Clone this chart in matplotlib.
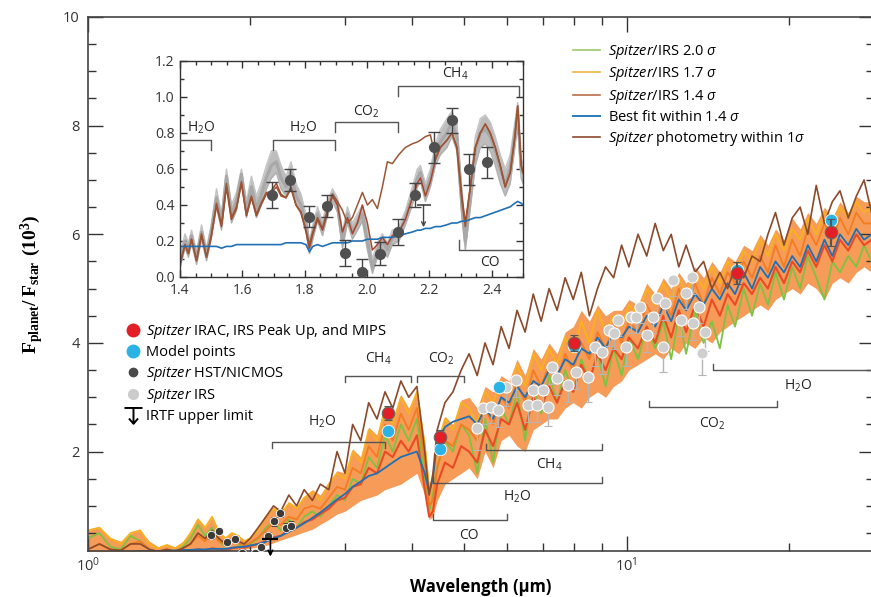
import matplotlib
matplotlib.use('Agg')
import matplotlib.pyplot as plt
from matplotlib.lines import Line2D
from matplotlib.path import Path
from matplotlib.ticker import MultipleLocator, FixedLocator, NullFormatter

plt.rcParams['font.family'] = ['Open Sans', 'DejaVu Sans']
plt.rcParams['mathtext.fontset'] = 'custom'
plt.rcParams['mathtext.rm'] = 'Open Sans'
plt.rcParams['mathtext.it'] = 'Open Sans:italic'
plt.rcParams['mathtext.bf'] = 'Liberation Serif:bold'

# ---- main spectrum (wavelength in micron, flux ratio in 1e-3) ----
wl = [1.00, 1.05, 1.10, 1.15, 1.20, 1.25, 1.30, 1.35, 1.40, 1.45,
      1.50, 1.55, 1.60, 1.65, 1.70, 1.75, 1.80, 1.85, 1.90, 1.95,
      2.00, 2.07, 2.14, 2.21, 2.28, 2.36, 2.44, 2.52, 2.61, 2.70,
      2.80, 2.90, 3.00, 3.10, 3.21, 3.32, 3.44, 3.56, 3.68, 3.81,
      3.94, 4.08, 4.22, 4.30, 4.37, 4.45, 4.60, 4.76, 4.93, 5.10,
      5.28, 5.46, 5.65, 5.85, 6.05, 6.26, 6.48, 6.71, 6.94, 7.18,
      7.43, 7.69, 7.96, 8.24, 8.53, 8.83, 9.14, 9.46, 9.79, 10.1,
      10.5, 10.9, 11.3, 11.7, 12.1, 12.5, 12.9, 13.4, 13.9, 14.4,
      14.9, 15.4, 15.9, 16.5, 17.1, 17.7, 18.3, 18.9, 19.6, 20.3,
      21.0, 21.7, 22.5, 23.3, 24.1, 24.9, 25.8, 26.7, 27.6, 28.5]

mass_hi = [0.55, 0.6, 0.42, 0.35, 0.5, 0.55, 0.35, 0.25, 0.3, 0.25,
           0.35, 0.5, 0.78, 0.6, 0.8, 0.55, 0.42, 0.5, 0.45, 0.38,
           0.42, 0.58, 0.82, 0.98, 0.88, 1.08, 0.98, 1.18, 1.3, 1.2,
           1.45, 1.65, 1.6, 2.05, 1.9, 2.45, 2.3, 2.85, 2.6, 3.05,
           2.8, 3.1, 2.2, 1.4, 1.6, 2.2, 2.65, 2.5, 2.95, 3.0,
           2.8, 3.2, 3.1, 3.4, 3.3, 3.7, 3.4, 3.9, 3.7, 4.0,
           3.8, 4.2, 4.3, 4.6, 4.4, 4.7, 4.5, 4.6, 4.6, 4.8,
           4.7, 5.1, 4.9, 5.2, 5.0, 5.3, 5.1, 5.4, 5.2, 5.5,
           5.3, 5.6, 5.5, 5.8, 5.7, 6.0, 5.8, 6.1, 5.9, 6.3,
           6.1, 6.4, 6.2, 6.5, 6.3, 6.6, 6.4, 6.7, 6.6, 6.6]
mass_lo = [0.1, 0.1, 0.1, 0.11, 0.11, 0.12, 0.12, 0.12, 0.12, 0.13,
           0.13, 0.14, 0.15, 0.15, 0.16, 0.17, 0.17, 0.18, 0.19, 0.2,
           0.22, 0.24, 0.27, 0.32, 0.37, 0.42, 0.47, 0.52, 0.57, 0.66,
           0.75, 0.85, 0.9, 1.0, 1.1, 1.15, 1.2, 1.3, 1.35, 1.4,
           1.5, 1.6, 1.2, 0.75, 0.8, 1.1, 1.4, 1.5, 1.6, 1.7,
           1.5, 2.0, 1.7, 2.2, 2.3, 2.1, 2.0, 2.4, 2.5, 2.6,
           2.6, 2.8, 2.9, 2.8, 3.0, 3.1, 3.0, 3.2, 3.3, 3.5,
           3.6, 3.7, 3.8, 3.7, 3.9, 3.8, 4.0, 3.9, 4.1, 4.0,
           4.2, 4.3, 4.4, 4.5, 4.6, 4.7, 4.6, 4.8, 4.9, 5.0,
           4.9, 5.1, 5.0, 4.8, 5.1, 5.2, 5.1, 5.3, 5.4, 5.3]

irs_20 = [0.4, 0.5, 0.25, 0.2, 0.45, 0.35, 0.2, 0.15, 0.18, 0.15,
          0.25, 0.4, 0.65, 0.45, 0.6, 0.35, 0.25, 0.35, 0.3, 0.22,
          0.3, 0.4, 0.6, 0.7, 0.55, 0.75, 0.6, 0.8, 0.9, 0.8,
          1.0, 1.2, 1.1, 1.5, 1.4, 1.9, 1.7, 2.3, 2.0, 2.5,
          2.2, 2.6, 1.5, 0.9, 1.2, 1.7, 2.2, 2.0, 2.5, 2.3,
          1.6, 2.6, 1.8, 2.8, 2.5, 3.1, 2.2, 3.2, 2.7, 3.4,
          2.9, 3.5, 3.1, 3.7, 3.3, 3.8, 3.2, 3.9, 3.4, 4.1,
          3.7, 4.3, 3.9, 4.4, 3.7, 4.5, 3.8, 4.6, 4.0, 4.4,
          3.9, 4.7, 4.3, 5.0, 4.5, 5.1, 4.7, 5.3, 4.8, 5.4,
          5.0, 5.6, 5.2, 4.8, 5.5, 5.3, 5.6, 5.4, 5.8, 5.5]
irs_17 = [0.55, 0.6, 0.4, 0.3, 0.5, 0.55, 0.3, 0.22, 0.28, 0.22,
          0.3, 0.5, 0.75, 0.6, 0.8, 0.5, 0.4, 0.5, 0.45, 0.35,
          0.4, 0.55, 0.8, 0.95, 0.85, 1.05, 0.95, 1.15, 1.25, 1.1,
          1.4, 1.6, 1.5, 2.0, 1.8, 2.4, 2.2, 2.8, 2.5, 3.0,
          2.7, 3.1, 2.1, 1.3, 1.5, 2.1, 2.6, 2.4, 2.9, 2.8,
          2.5, 3.1, 2.9, 3.3, 3.1, 3.6, 3.2, 3.8, 3.5, 3.9,
          3.6, 4.1, 3.8, 4.4, 4.0, 4.6, 4.2, 4.5, 4.3, 4.7,
          4.5, 5.0, 4.7, 5.1, 4.8, 5.2, 4.9, 5.3, 5.0, 5.4,
          5.1, 5.5, 5.3, 5.7, 5.5, 5.9, 5.6, 6.0, 5.7, 6.1,
          5.9, 6.3, 6.0, 6.4, 6.1, 6.5, 6.3, 6.6, 6.4, 6.5]
irs_14a = [0.2, 0.3, 0.2, 0.18, 0.3, 0.35, 0.2, 0.16, 0.2, 0.17,
           0.22, 0.3, 0.45, 0.35, 0.5, 0.35, 0.28, 0.35, 0.32, 0.27,
           0.32, 0.42, 0.55, 0.7, 0.65, 0.8, 0.75, 0.95, 1.0, 0.95,
           1.15, 1.35, 1.3, 1.7, 1.6, 2.1, 1.9, 2.5, 2.2, 2.7,
           2.4, 2.8, 1.8, 1.0, 1.1, 1.7, 2.2, 2.1, 2.5, 2.4,
           2.2, 2.8, 2.5, 3.0, 2.8, 3.3, 2.9, 3.5, 3.2, 3.6,
           3.3, 3.8, 3.5, 4.0, 3.7, 4.2, 3.9, 4.3, 4.0, 4.4,
           4.2, 4.7, 4.4, 4.8, 4.5, 5.0, 4.6, 5.1, 4.7, 5.2,
           4.9, 5.3, 5.1, 5.5, 5.2, 5.6, 5.3, 5.8, 5.4, 5.9,
           5.6, 6.1, 5.8, 6.2, 5.9, 6.3, 6.0, 6.4, 6.2, 6.2]
irs_14b = [0.12, 0.13, 0.12, 0.14, 0.15, 0.14, 0.13, 0.14, 0.15, 0.15,
           0.16, 0.17, 0.2, 0.18, 0.22, 0.2, 0.18, 0.22, 0.24, 0.23,
           0.26, 0.3, 0.35, 0.42, 0.45, 0.55, 0.6, 0.7, 0.75, 0.85,
           0.95, 1.1, 1.15, 1.35, 1.4, 1.7, 1.6, 2.0, 1.9, 2.2,
           2.0, 2.3, 1.3, 0.8, 0.9, 1.4, 1.8, 1.7, 2.1, 2.0,
           1.8, 2.4, 2.1, 2.6, 2.5, 2.9, 2.4, 3.0, 2.8, 3.2,
           2.9, 3.3, 3.1, 3.6, 3.3, 3.8, 3.5, 3.9, 3.7, 4.1,
           3.9, 4.3, 4.0, 4.5, 4.1, 4.6, 4.2, 4.7, 4.3, 4.8,
           4.5, 4.9, 4.7, 5.1, 4.9, 5.2, 5.0, 5.4, 5.1, 5.5,
           5.3, 5.7, 5.4, 5.8, 5.5, 5.9, 5.7, 6.0, 5.8, 5.9]
best_fit = [0.15, 0.15, 0.15, 0.16, 0.16, 0.17, 0.17, 0.17, 0.18, 0.18,
            0.19, 0.19, 0.2, 0.2, 0.21, 0.21, 0.21, 0.23, 0.24, 0.25,
            0.27, 0.3, 0.34, 0.4, 0.45, 0.52, 0.6, 0.68, 0.78, 0.88,
            1.0, 1.12, 1.22, 1.35, 1.45, 1.55, 1.6, 1.7, 1.8, 1.9,
            1.95, 2.0, 1.6, 1.25, 1.5, 2.2, 2.45, 2.55, 2.6, 2.65,
            2.5, 2.8, 2.6, 3.0, 2.9, 3.2, 3.0, 3.3, 3.2, 3.5,
            3.4, 3.7, 3.6, 3.9, 3.8, 4.1, 3.9, 4.2, 4.1, 4.3,
            4.2, 4.5, 4.3, 4.7, 4.4, 4.8, 4.6, 4.9, 4.7, 5.0,
            4.8, 5.1, 4.9, 5.3, 5.0, 5.4, 5.2, 5.5, 5.3, 5.6,
            5.4, 5.8, 5.5, 5.9, 5.6, 6.0, 5.8, 6.1, 5.9, 6.0]
phot_1sig = [0.2, 0.3, 0.2, 0.18, 0.3, 0.3, 0.2, 0.16, 0.2, 0.16,
             0.22, 0.3, 0.5, 0.4, 0.55, 0.4, 0.3, 0.4, 0.35, 0.3,
             0.4, 0.6, 0.8, 1.0, 0.9, 1.2, 1.0, 1.3, 1.1, 1.4,
             1.3, 2.0, 1.6, 2.5, 2.2, 2.9, 2.6, 3.1, 2.8, 3.3,
             3.0, 3.2, 2.0, 1.2, 1.6, 2.4, 2.9, 3.1, 3.5, 3.8,
             3.4, 4.0, 3.6, 4.3, 3.9, 4.6, 4.2, 4.9, 4.4, 5.0,
             4.6, 5.2, 4.8, 5.3, 4.5, 5.0, 5.4, 5.2, 5.8, 5.4,
             6.0, 5.6, 6.2, 5.7, 6.0, 5.4, 5.8, 5.3, 5.5, 5.0,
             5.3, 5.0, 5.4, 5.2, 5.6, 5.5, 6.0, 6.4, 5.8, 6.3,
             6.5, 6.0, 6.9, 6.2, 6.6, 6.8, 6.3, 6.7, 7.0, 6.4]

# photometric points
phot_wl = [3.6, 4.5, 8.0, 16.0, 24.0]
phot_flux = [2.71, 2.27, 4.0, 5.29, 6.04]
phot_err = [0.12, 0.12, 0.15, 0.2, 0.25]
model_wl = [3.6, 4.5, 5.8, 8.0, 16.0, 24.0]
model_flux = [2.38, 2.04, 3.19, 3.95, 5.35, 6.26]

# IRS spectrum points
irs_wl = [5.28, 5.42, 5.59, 5.76, 5.96, 6.22, 6.55, 6.69, 6.83, 7.01,
          7.16, 7.28, 7.44, 7.77, 8.04, 8.49, 8.75, 9.02, 9.26, 9.46,
          9.66, 9.96, 10.2, 10.4, 10.6, 10.9, 11.2, 11.4, 11.7, 11.8,
          12.2, 12.6, 12.9, 13.2, 13.3, 13.6, 13.8, 14.0]
irs_flux = [2.43, 2.80, 2.82, 2.76, 3.19, 3.31, 2.85, 3.13, 2.85, 3.13,
            2.82, 3.55, 3.35, 3.22, 3.46, 3.37, 3.92, 3.83, 4.24, 4.18,
            4.42, 3.92, 4.48, 4.48, 4.66, 4.14, 4.48, 4.83, 3.92, 4.73,
            5.16, 4.42, 4.92, 5.21, 4.36, 4.66, 3.81, 4.20]
irs_err = [0.4, 0.3, 0.3, 0.3, 0.35, 0.3, 0.3, 0.3, 0.3, 0.3,
           0.35, 0.3, 0.3, 0.3, 0.3, 0.45, 0.35, 0.4, 0.3, 0.3,
           0.3, 0.35, 0.3, 0.3, 0.3, 0.3, 0.3, 0.3, 0.45, 0.3,
           0.3, 0.3, 0.3, 0.3, 0.3, 0.3, 0.4, 0.35]

# HST/NICMOS points and IRTF limit
nic_wl = [1.695, 1.753, 1.813, 1.871, 1.929, 1.984, 2.041, 2.099,
          2.155, 2.214, 2.271, 2.328, 2.385]
nic_flux = [0.456, 0.539, 0.336, 0.395, 0.133, 0.03, 0.13, 0.25,
            0.455, 0.72, 0.87, 0.598, 0.637]
nic_err = [0.07, 0.06, 0.06, 0.06, 0.07, 0.07, 0.065, 0.07,
           0.065, 0.085, 0.07, 0.085, 0.085]
irtf_wl = [2.181]
irtf_lim = [0.40]

# ---- inset spectra (1.4-2.5 micron) ----
in_wl = [1.400, 1.416, 1.427, 1.437, 1.453, 1.469, 1.485, 1.500, 1.517, 1.533,
         1.549, 1.565, 1.581, 1.597, 1.613, 1.629, 1.645, 1.660, 1.677, 1.693,
         1.709, 1.724, 1.740, 1.756, 1.772, 1.788, 1.804, 1.815, 1.826, 1.841,
         1.857, 1.873, 1.889, 1.905, 1.921, 1.937, 1.953, 1.969, 1.985, 2.001,
         2.017, 2.033, 2.049, 2.065, 2.081, 2.102, 2.123, 2.145, 2.161, 2.171,
         2.187, 2.203, 2.219, 2.235, 2.256, 2.272, 2.288, 2.304, 2.315, 2.331,
         2.347, 2.363, 2.379, 2.395, 2.411, 2.427, 2.443, 2.459, 2.474, 2.483,
         2.494, 2.500]
in_gray_mid = [0.08, 0.20, 0.15, 0.23, 0.10, 0.25, 0.12, 0.25, 0.44, 0.30,
               0.56, 0.35, 0.42, 0.57, 0.37, 0.50, 0.38, 0.45, 0.55, 0.62,
               0.64, 0.55, 0.50, 0.58, 0.45, 0.40, 0.30, 0.16, 0.25, 0.35,
               0.27, 0.38, 0.46, 0.40, 0.20, 0.35, 0.25, 0.30, 0.35, 0.20,
               0.05, 0.15, 0.20, 0.15, 0.22, 0.24, 0.33, 0.45, 0.55, 0.58,
               0.47, 0.55, 0.68, 0.75, 0.80, 0.86, 0.78, 0.40, 0.20, 0.45,
               0.70, 0.80, 0.82, 0.78, 0.70, 0.60, 0.52, 0.60, 0.80, 0.92,
               0.60, 0.58]
in_gray_hi = [0.12, 0.24, 0.19, 0.26, 0.14, 0.29, 0.16, 0.29, 0.49, 0.35,
              0.60, 0.40, 0.47, 0.60, 0.42, 0.56, 0.45, 0.52, 0.62, 0.70,
              0.70, 0.62, 0.56, 0.64, 0.52, 0.46, 0.35, 0.20, 0.29, 0.39,
              0.31, 0.42, 0.49, 0.44, 0.25, 0.39, 0.30, 0.35, 0.40, 0.26,
              0.10, 0.19, 0.24, 0.19, 0.26, 0.28, 0.37, 0.50, 0.60, 0.62,
              0.52, 0.60, 0.74, 0.82, 0.88, 0.92, 0.86, 0.48, 0.26, 0.52,
              0.78, 0.88, 0.90, 0.86, 0.78, 0.68, 0.60, 0.68, 0.86, 0.97,
              0.66, 0.62]
in_gray_lo = [0.05, 0.16, 0.11, 0.19, 0.07, 0.21, 0.09, 0.21, 0.39, 0.26,
              0.51, 0.30, 0.37, 0.53, 0.33, 0.45, 0.33, 0.40, 0.49, 0.55,
              0.58, 0.49, 0.45, 0.53, 0.40, 0.35, 0.26, 0.13, 0.21, 0.31,
              0.23, 0.34, 0.42, 0.36, 0.16, 0.30, 0.21, 0.26, 0.31, 0.15,
              0.02, 0.11, 0.16, 0.11, 0.18, 0.20, 0.29, 0.40, 0.50, 0.53,
              0.42, 0.50, 0.62, 0.68, 0.72, 0.78, 0.70, 0.33, 0.15, 0.38,
              0.62, 0.72, 0.74, 0.70, 0.62, 0.52, 0.45, 0.52, 0.72, 0.85,
              0.55, 0.52]
in_irs_14 = [0.07, 0.18, 0.13, 0.21, 0.09, 0.23, 0.11, 0.22, 0.40, 0.28,
             0.50, 0.32, 0.38, 0.52, 0.34, 0.44, 0.34, 0.40, 0.46, 0.48,
             0.52, 0.46, 0.44, 0.50, 0.40, 0.36, 0.25, 0.16, 0.24, 0.32,
             0.26, 0.36, 0.45, 0.40, 0.25, 0.33, 0.24, 0.30, 0.40, 0.30,
             0.15, 0.18, 0.22, 0.18, 0.23, 0.25, 0.32, 0.44, 0.52, 0.55,
             0.45, 0.53, 0.65, 0.72, 0.76, 0.80, 0.72, 0.45, 0.30, 0.50,
             0.72, 0.80, 0.85, 0.80, 0.72, 0.62, 0.50, 0.58, 0.78, 0.95,
             0.62, 0.58]
in_phot = [0.07, 0.18, 0.13, 0.21, 0.09, 0.24, 0.11, 0.23, 0.41, 0.29,
           0.52, 0.33, 0.39, 0.53, 0.35, 0.45, 0.35, 0.41, 0.47, 0.47,
           0.50, 0.45, 0.44, 0.49, 0.40, 0.36, 0.26, 0.18, 0.25, 0.33,
           0.27, 0.37, 0.46, 0.42, 0.37, 0.30, 0.33, 0.40, 0.47, 0.40,
           0.43, 0.38, 0.50, 0.64, 0.63, 0.68, 0.72, 0.74, 0.75, 0.76,
           0.78, 0.79, 0.66, 0.72, 0.76, 0.80, 0.72, 0.42, 0.28, 0.50,
           0.72, 0.80, 0.85, 0.80, 0.72, 0.62, 0.50, 0.58, 0.78, 0.95,
           0.62, 0.58]
in_best = [0.17, 0.17, 0.17, 0.17, 0.17, 0.17, 0.17, 0.17, 0.17, 0.16,
           0.17, 0.17, 0.18, 0.18, 0.18, 0.18, 0.18, 0.18, 0.18, 0.18,
           0.18, 0.18, 0.19, 0.19, 0.19, 0.19, 0.18, 0.14, 0.17, 0.18,
           0.17, 0.18, 0.19, 0.19, 0.19, 0.19, 0.20, 0.20, 0.20, 0.21,
           0.21, 0.21, 0.22, 0.22, 0.22, 0.23, 0.24, 0.25, 0.26, 0.26,
           0.27, 0.27, 0.28, 0.28, 0.29, 0.30, 0.30, 0.31, 0.31, 0.32,
           0.33, 0.33, 0.34, 0.35, 0.36, 0.37, 0.38, 0.39, 0.41, 0.42,
           0.41, 0.40]

c_green = '#7dc242'
c_yellow = '#f9b21b'
c_orange = '#f47b20'
c_red = '#eb4a26'
c_blue = '#1f70b6'
c_brown = '#8b4a2b'
c_bracket = '#555555'

fig = plt.figure(figsize=(8.71, 5.97), dpi=100)
ax = fig.add_axes([88 / 871, 46 / 597, 786 / 871, 534 / 597])

ax.fill_between(wl, mass_lo, mass_hi, color=c_orange, alpha=0.75, lw=0)
ax.plot(wl, irs_20, color=c_green, lw=1.3)
ax.plot(wl, irs_17, color=c_yellow, lw=1.3)
ax.plot(wl, irs_14a, color=c_orange, lw=1.3)
ax.plot(wl, irs_14b, color=c_red, lw=1.5)
ax.plot(wl, best_fit, color=c_blue, lw=1.3)
ax.plot(wl, phot_1sig, color=c_brown, lw=1.2)

ax.errorbar(irs_wl, irs_flux, yerr=[irs_err, [0] * len(irs_err)], fmt='o',
            ms=8, mfc='#cfcfcf', mec='white', mew=0.8, ecolor='#b5b5b5',
            elinewidth=1, capsize=3, zorder=5)
ax.errorbar(nic_wl, nic_flux, yerr=nic_err, fmt='o', ms=6, mfc='#3a3a3a',
            mec='white', mew=0.6, ecolor='#333333', elinewidth=1, capsize=2,
            zorder=6)
ax.plot(model_wl, model_flux, 'o', ms=9, mfc='#2bb3e6', mec='white',
        mew=0.6, zorder=7)
ax.errorbar(phot_wl, phot_flux, yerr=phot_err, fmt='o', ms=9, mfc='#e31e26',
            mec='#666666', mew=0.8, ecolor='#555555', capsize=3, zorder=8)
ax.plot(irtf_wl, irtf_lim, marker='_', ms=11, mew=1.6, color='black', ls='',
        zorder=9)
ax.annotate('', xy=(irtf_wl[0], irtf_lim[0]), xytext=(0, -13),
            textcoords='offset points',
            arrowprops=dict(arrowstyle='<-', color='black', lw=1.2,
                            shrinkA=0, shrinkB=0, mutation_scale=8),
            zorder=9)


def bracket(a, x0, x1, y, tick, label, lx, ly, fs=10):
    a.plot([x0, x0, x1, x1], [y + tick, y, y, y + tick], color=c_bracket,
           lw=1, zorder=10)
    a.text(lx, ly, label, ha='center', va='center', fontsize=fs,
           color='#222222', zorder=10)


bracket(ax, 2.20, 3.56, 2.17, -0.11, 'H$_2$O', 2.72, 2.55)
bracket(ax, 3.0, 3.98, 3.40, -0.11, 'CH$_4$', 3.46, 3.70)
bracket(ax, 4.09, 5.0, 3.40, -0.11, 'CO$_2$', 4.52, 3.70)
bracket(ax, 5.49, 9.02, 2.03, 0.11, 'CH$_4$', 7.2, 1.76)
bracket(ax, 4.38, 9.02, 1.42, 0.11, 'H$_2$O', 6.26, 1.16)
bracket(ax, 4.38, 6.0, 0.74, 0.11, 'CO', 5.09, 0.45)
bracket(ax, 11.0, 19.0, 2.82, 0.11, 'CO$_2$', 14.4, 2.52)
bracket(ax, 14.5, 40.0, 3.50, 0.11, 'H$_2$O', 20.8, 3.22)

ax.set_xscale('log')
ax.set_xlim(1, 28.8)
ax.set_ylim(0.17, 10)
ax.xaxis.set_major_locator(FixedLocator([1, 10]))
ax.xaxis.set_minor_locator(FixedLocator([2, 3, 4, 5, 6, 7, 8, 9, 20]))
ax.xaxis.set_minor_formatter(NullFormatter())
ax.yaxis.set_major_locator(FixedLocator([2, 4, 6, 8, 10]))
ax.yaxis.set_minor_locator(MultipleLocator(0.5))
ax.tick_params(which='both', direction='in', top=True, right=True,
               colors='#333333', labelsize=10.5, width=1)
ax.tick_params(which='major', length=11, pad=6)
ax.tick_params(which='minor', length=6)
ax.tick_params(axis='x', which='major', pad=4)
for sp in ax.spines.values():
    sp.set_color('#444444')
    sp.set_linewidth(1.2)

ax.set_xlabel('Wavelength (\u00b5m)', fontsize=12, fontweight='bold',
              labelpad=2)
ax.set_ylabel(r'$\mathbf{F_{planet}/\,F_{star}\ (10^{3})}$', fontsize=14,
              labelpad=12)

# legend for the data symbols
lim_marker = Path([(-0.6, 0.5), (0.6, 0.5), (0, 0.5), (0, -0.55),
                   (-0.3, -0.2), (0, -0.55), (0.3, -0.2)],
                  [Path.MOVETO, Path.LINETO, Path.MOVETO, Path.LINETO,
                   Path.MOVETO, Path.LINETO, Path.LINETO])
sym_handles = [
    Line2D([], [], ls='', marker='o', ms=9, mfc='#e31e26', mec='#e31e26'),
    Line2D([], [], ls='', marker='o', ms=9, mfc='#2bb3e6', mec='#2bb3e6'),
    Line2D([], [], ls='', marker='o', ms=6, mfc='#4a4a4a', mec='#4a4a4a'),
    Line2D([], [], ls='', marker='o', ms=7, mfc='#cccccc', mec='#cccccc'),
    Line2D([], [], ls='', marker=lim_marker, ms=13, mew=1.4, color='black',
           mfc='none'),
]
sym_labels = [r'$\it{Spitzer}$ IRAC, IRS Peak Up, and MIPS',
              'Model points',
              r'$\it{Spitzer}$ HST/NICMOS',
              r'$\it{Spitzer}$ IRS',
              'IRTF upper limit']
leg1 = ax.legend(sym_handles, sym_labels, loc='upper left',
                 bbox_to_anchor=(126 / 871, 1 - 322 / 597),
                 bbox_transform=fig.transFigure, frameon=False,
                 fontsize=10.5, borderpad=0, borderaxespad=0,
                 handlelength=0.9, handletextpad=0.5, labelspacing=0.3)
ax.add_artist(leg1)

line_handles = [
    Line2D([], [], color='#9cc96b', lw=1.2),
    Line2D([], [], color='#efb541', lw=1.2),
    Line2D([], [], color='#b8704a', lw=1.2),
    Line2D([], [], color='#2a7ab8', lw=1.4),
    Line2D([], [], color='#8c4a2c', lw=1.2),
]
line_labels = [r'$\it{Spitzer}$/IRS 2.0 $\sigma$',
               r'$\it{Spitzer}$/IRS 1.7 $\sigma$',
               r'$\it{Spitzer}$/IRS 1.4 $\sigma$',
               r'Best fit within 1.4 $\sigma$',
               r'$\it{Spitzer}$ photometry within 1$\sigma$']
ax.legend(line_handles, line_labels, loc='upper left',
          bbox_to_anchor=(573 / 871, 1 - 43 / 597),
          bbox_transform=fig.transFigure, frameon=False, fontsize=10.5,
          borderpad=0, borderaxespad=0, handlelength=1.85,
          handletextpad=0.55, labelspacing=0.3)

# ---- inset: 1.4-2.5 micron zoom ----
ins = fig.add_axes([180 / 871, 1 - 277 / 597, 343 / 871, 216 / 597])
ins.fill_between(in_wl, in_gray_lo, in_gray_hi, color='#bdbdbd', lw=0)
ins.plot(in_wl, in_gray_hi, color='#c4c4c4', lw=1)
ins.plot(in_wl, in_gray_lo, color='#b0b0b0', lw=1)
ins.plot(in_wl, in_gray_mid, color='#a8a8a8', lw=2.2)
ins.plot(in_wl, in_irs_14, color='#a8452c', lw=1.1)
ins.plot(in_wl, in_phot, color='#9b5634', lw=1.1)
ins.plot(in_wl, in_best, color=c_blue, lw=1.2)
ins.errorbar(nic_wl, nic_flux, yerr=nic_err, fmt='o', ms=7, mfc='#505050',
             mec='#505050', ecolor='#444444', elinewidth=1, capsize=4,
             capthick=1, zorder=5)
ins.plot(irtf_wl, irtf_lim, marker='_', ms=10, mew=1.2, color='#444444',
         ls='', zorder=6)
ins.annotate('', xy=(irtf_wl[0], irtf_lim[0]), xytext=(0, -16),
             textcoords='offset points',
             arrowprops=dict(arrowstyle='<-', color='#444444', lw=1,
                             shrinkA=0, shrinkB=0, mutation_scale=7),
             zorder=6)

bracket(ins, 1.35, 1.5, 0.76, -0.055, 'H$_2$O', 1.469, 0.83)
bracket(ins, 1.698, 1.898, 0.76, -0.055, 'H$_2$O', 1.794, 0.83)
bracket(ins, 1.898, 2.099, 0.862, -0.055, 'CO$_2$', 1.996, 0.92)
bracket(ins, 2.099, 2.487, 1.061, -0.055, 'CH$_4$', 2.283, 1.13)
bracket(ins, 2.296, 2.60, 0.151, 0.055, 'CO', 2.395, 0.08)

ins.set_xlim(1.4, 2.5)
ins.set_ylim(0, 1.2)
ins.xaxis.set_major_locator(MultipleLocator(0.2))
ins.xaxis.set_minor_locator(MultipleLocator(0.05))
ins.yaxis.set_major_locator(MultipleLocator(0.2))
ins.yaxis.set_minor_locator(MultipleLocator(0.1))
ins.xaxis.set_major_formatter(plt.FuncFormatter(lambda v, p: f'{v:.1f}'))
ins.yaxis.set_major_formatter(plt.FuncFormatter(lambda v, p: f'{v:.1f}'))
ins.tick_params(which='both', direction='in', top=True, right=True,
                colors='#333333', labelsize=10, width=1)
ins.tick_params(which='major', length=5, pad=4)
ins.tick_params(which='minor', length=3)
for sp in ins.spines.values():
    sp.set_color('#333333')
    sp.set_linewidth(1)

fig.savefig('out.png', dpi=100, facecolor='white')
